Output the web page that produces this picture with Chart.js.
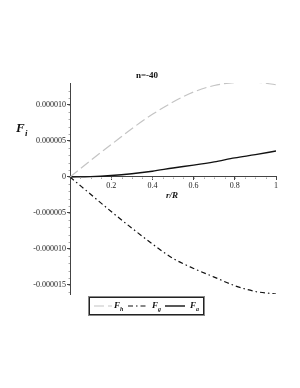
<!DOCTYPE html>
<html lang="en">

<head>
  <meta charset="UTF-8" />
  <title>n=-40</title>
  <script src="https://cdn.jsdelivr.net/npm/chart.js"></script>
  <style>
    * {
      box-sizing: border-box;
      margin: 0;
      padding: 0
    }

    body {
      background: #fff;
      width: 300px;
      height: 388px;
      overflow: hidden
    }

    #grafico {
      display: block
    }
  </style>
</head>

<body>
  <canvas id="grafico" width="300" height="388"></canvas>
  <script>
    // datos
    const rValues = [0, 0.1, 0.2, 0.3, 0.4, 0.5, 0.6, 0.7, 0.8, 0.9, 1.0];
    const fhValues = [0, 2.3e-6, 4.5e-6, 6.7e-6, 8.7e-6, 10.4e-6, 11.8e-6, 12.7e-6, 13.1e-6, 13.15e-6, 12.8e-6];
    const fgValues = [0, -2.4e-6, -4.8e-6, -7.1e-6, -9.3e-6, -11.3e-6, -12.7e-6, -13.9e-6, -15.1e-6, -15.9e-6, -16.25e-6];
    const faValues = [0, 0.05e-6, 0.2e-6, 0.45e-6, 0.8e-6, 1.25e-6, 1.65e-6, 2.1e-6, 2.65e-6, 3.1e-6, 3.6e-6];

    const seriesNames = ['h', 'g', 'a'];
    const yTickValues = [-15e-6, -10e-6, -5e-6, 0, 5e-6, 10e-6];
    const yTickLabels = ['-0.000015', '-0.000010', '-0.000005', '0', '0.000005', '0.000010'];
    const xTickValues = [0.2, 0.4, 0.6, 0.8, 1];
    const xTickLabels = ['0.2', '0.4', '0.6', '0.8', '1'];

    const serif = "'Liberation Serif', 'DejaVu Serif', serif";
    const axisColor = '#444';

    function toPoints(ys) { return rValues.map((r, i) => ({ x: r, y: ys[i] })) }

    // textos extra y leyenda dibujados sobre el canvas
    const extras = {
      id: 'extras',
      afterDraw(chart) {
        const c = chart.ctx;
        const ys = chart.scales.y, xs = chart.scales.x;
        c.save();
        c.strokeStyle = '#aaa';
        c.lineWidth = 1;
        // ticks menores
        c.beginPath();
        for (let v = -16e-6; v <= 13e-6; v += 1e-6) {
          const py = Math.round(ys.getPixelForValue(v)) + 0.5;
          c.moveTo(xs.left - 1.5, py); c.lineTo(xs.left, py);
        }
        const y0 = Math.round(ys.getPixelForValue(0)) + 0.5;
        for (let v = 0.05; v < 1; v += 0.05) {
          const px = Math.round(xs.getPixelForValue(v)) + 0.5;
          c.moveTo(px, y0); c.lineTo(px, y0 + 1.5);
        }
        c.stroke();

        c.fillStyle = '#111';
        c.textBaseline = 'middle';
        // titulo
        c.font = 'bold 9px ' + serif;
        c.textAlign = 'center';
        c.fillText('n=-40', 147, 76);
        // eje y
        c.font = 'bold italic 13px ' + serif;
        c.textAlign = 'left';
        c.fillText('F', 16, 129);
        c.font = 'bold italic 9px ' + serif;
        c.fillText('i', 25, 134);
        // eje x
        c.font = 'bold italic 9px ' + serif;
        c.textAlign = 'center';
        c.fillText('r/R', 172, 196);

        // leyenda
        const bx = 88, by = 296, bw = 116, bh = 19;
        c.strokeStyle = '#888';
        c.lineWidth = 1;
        c.strokeRect(bx + 0.5, by + 0.5, bw, bh);
        c.strokeStyle = '#222';
        c.strokeRect(bx + 1.5, by + 1.5, bw - 2, bh - 2);
        const ly = by + bh / 2 + 0.5;
        const items = [
          { x1: 94, x2: 112, tx: 114, ds: chart.data.datasets[0] },
          { x1: 128, x2: 146, tx: 152, ds: chart.data.datasets[1] },
          { x1: 165, x2: 185, tx: 190, ds: chart.data.datasets[2] }
        ];
        items.forEach((it, i) => {
          c.save();
          c.strokeStyle = it.ds.borderColor;
          c.lineWidth = it.ds.borderWidth;
          c.setLineDash(it.ds.borderDash || []);
          c.beginPath(); c.moveTo(it.x1, ly); c.lineTo(it.x2, ly); c.stroke();
          c.restore();
          c.fillStyle = '#111';
          c.textAlign = 'left';
          c.font = 'bold italic 9px ' + serif;
          c.fillText('F', it.tx, ly);
          c.font = 'bold italic 6px ' + serif;
          c.fillText(seriesNames[i], it.tx + 6, ly + 3);
        });
        c.restore();
      }
    };

    const ctx = document.getElementById('grafico').getContext('2d');
    const myChart = new Chart(ctx, {
      type: 'line',
      data: {
        datasets: [
          { label: 'F_h', data: toPoints(fhValues), borderColor: '#c4c4c4', borderWidth: 1.2, borderDash: [10, 4] },
          { label: 'F_g', data: toPoints(fgValues), borderColor: '#111', borderWidth: 1.2, borderDash: [5, 3, 1.5, 3] },
          { label: 'F_a', data: toPoints(faValues), borderColor: '#111', borderWidth: 1.4 }
        ]
      },
      options: {
        responsive: false,
        animation: false,
        events: [],
        elements: { point: { radius: 0 }, line: { cubicInterpolationMode: 'monotone' } },
        layout: { padding: { top: 83, bottom: 94, right: 24, left: 0 } },
        plugins: { legend: { display: false }, tooltip: { enabled: false } },
        scales: {
          x: {
            type: 'linear',
            position: { y: 0 },
            min: 0,
            max: 1,
            afterBuildTicks: s => { s.ticks = xTickValues.map(v => ({ value: v })) },
            ticks: {
              callback: v => xTickLabels[xTickValues.indexOf(v)],
              font: { family: serif, size: 8 },
              color: '#222',
              padding: 1,
              maxRotation: 0,
              autoSkip: false
            },
            grid: { drawOnChartArea: false, drawTicks: true, tickLength: 3, color: axisColor },
            border: { color: axisColor, width: 1 }
          },
          y: {
            type: 'linear',
            min: -16.25e-6,
            max: 13.05e-6,
            afterBuildTicks: s => { s.ticks = yTickValues.map(v => ({ value: v })) },
            afterFit: s => { s.width = 70 },
            ticks: {
              callback: v => yTickLabels[yTickValues.indexOf(v)],
              font: { family: serif, size: 8 },
              color: '#222',
              padding: 1,
              autoSkip: false
            },
            grid: { drawOnChartArea: false, drawTicks: true, tickLength: 3, color: axisColor },
            border: { color: axisColor, width: 1 }
          }
        }
      },
      plugins: [extras]
    });
  </script>
</body>

</html>
